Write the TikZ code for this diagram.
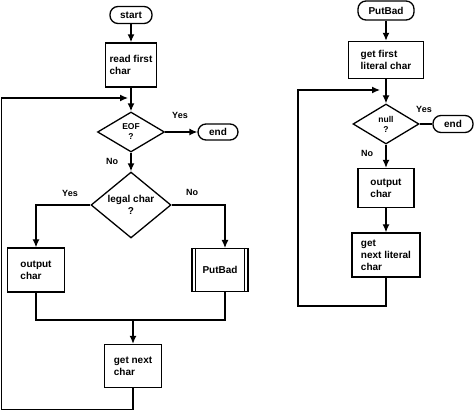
\documentclass[tikz,border=0pt]{standalone}
\usepackage{fontspec}
\setmainfont{Liberation Sans}
\usetikzlibrary{positioning}
\usetikzlibrary{calc}
\usetikzlibrary{shapes.geometric}
\usetikzlibrary{arrows.meta}
\tikzset{
	every node/.style={align=left,inner sep=0pt,font=\bfseries\fontsize{10}{12}\selectfont},
	every path/.style={line width=1.3pt},
	stepbox/.style={draw,rectangle,minimum width=#1},
	termbox/.style={draw,rectangle,rounded corners=8pt,minimum width=#1,minimum height=17pt,align=center},
	testbox/.style={draw,diamond,align=center},
	flow/.style={-{Latex[length=8pt,width=7pt]}},
	mainflow/.style={flow,line width=2.4pt},
	tag/.style={font=\bfseries\fontsize{9}{10}\selectfont},
}
\begin{document}
\begin{tikzpicture}[x=1pt,y=-1pt]
			\useasboundingbox (0,0) rectangle (474,411);
			
			%main program.....................
			\node [termbox=42pt] (start) at (131,15) {start};
			\node [stepbox=51pt,minimum height=44pt] (read) at (131,65) {read first\\char};
			\node [testbox,minimum width=67pt,minimum height=40pt,font=\bfseries\fontsize{8.5}{10}\selectfont] (eof) at (131,132) {EOF\\?};
			\node [termbox=40pt,minimum height=16pt] (end) at (218,132) {end};
			\node [testbox,minimum width=80pt,minimum height=56pt] (legal) at (131,205) {legal char\\?};
			\node [stepbox=57pt,minimum height=44pt] (out) at (36,270) {output\\char};
			\node [stepbox=56pt,minimum height=43pt,align=center] (bad) at (220,270) {PutBad};
			\node [stepbox=57pt,minimum height=43pt] (next) at (133,366) {get next\\char};
			
			% side lines of PutBad...................
			\draw ([xshift=4pt]bad.north west) -- ([xshift=4pt]bad.south west);
			\draw ([xshift=-4pt]bad.north east) -- ([xshift=-4pt]bad.south east);
			
			% arrows..............................
			\draw [mainflow] (start) -- (read);
			\draw [mainflow] (read) -- (eof);
			\draw [flow] (eof) -- (end);
			\draw [mainflow] (eof) -- (legal);
			\draw [flow] (legal.west) -| (out.north);
			\coordinate (badin) at (225,248);
			\draw [flow] (legal.east) -| (badin);
			\coordinate (join) at (133,320);
			\draw (out.south) |- (join) -| ([xshift=5pt]bad.south);
			\draw [flow] (join) -- (next);
			
			% loop back............................
			\coordinate (loopin) at (128,98);
			\draw [flow] (next.south) -- (133,409.5) -- (1.5,409.5) |- (loopin);
			
			% labels..............................
			\node [tag] (yes1) at (180,115) {Yes};
			\node [tag] (no1) at (112,161) {No};
			\node [tag] (yes2) at (70,193) {Yes};
			\node [tag] (no2) at (192,192) {No};
			
			%PutBad.....................
			\node [termbox=56pt,minimum height=19pt] (putbad) at (386,10.5) {PutBad};
			\node [stepbox=75pt,minimum height=37pt] (first) at (386,60) {get first\\literal char};
			\node [testbox,minimum width=66pt,minimum height=40pt,font=\bfseries\fontsize{8.5}{10}\selectfont] (null) at (386,124) {null\\?};
			\node [termbox=40pt] (end2) at (453,124) {end};
			\node [stepbox=56pt,minimum height=39pt] (out2) at (386,188) {output\\char};
			\node [stepbox=68pt,minimum height=44pt] (next2) at (386,255) {get\\next literal\\char};
			
			% arrows..............................
			\draw [mainflow] (putbad) -- (first);
			\draw [flow] (first) -- (null);
			\draw [line width=2.6pt] (null) -- (end2);
			\draw [flow] (null) -- (out2);
			\draw [flow] (out2) -- (next2);
			
			% loop back............................
			\coordinate (loopin2) at (380,90);
			\draw [flow] (next2.south) -- (386,306) -- (298,306) |- (loopin2);
			
			% labels..............................
			\node [tag] (yes3) at (424,109) {Yes};
			\node [tag] (no3) at (367,153) {No};
		\end{tikzpicture}
\end{document}
